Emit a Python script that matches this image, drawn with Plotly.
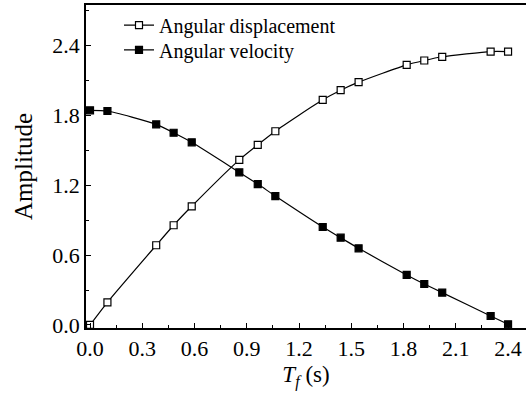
import plotly.graph_objects as go

t = [0.0, 0.1, 0.38, 0.48, 0.584, 0.857, 0.963, 1.064, 1.336, 1.439, 1.542, 1.818, 1.919, 2.022, 2.30, 2.40]
disp = [0.0, 0.195, 0.685, 0.857, 1.02, 1.419, 1.548, 1.665, 1.935, 2.018, 2.087, 2.236, 2.273, 2.305, 2.35, 2.35]
vel = [1.845, 1.839, 1.724, 1.652, 1.57, 1.312, 1.211, 1.108, 0.842, 0.75, 0.659, 0.43, 0.352, 0.278, 0.077, 0.006]

xticks = [0.0, 0.3, 0.6, 0.9, 1.2, 1.5, 1.8, 2.1, 2.4]
yticks = [0.0, 0.6, 1.2, 1.8, 2.4]

font = "Liberation Serif"

fig = go.Figure()
fig.add_trace(go.Scatter(
    x=t, y=disp, name="Angular displacement", mode="lines+markers",
    line=dict(color="black", width=1.2, shape="spline", smoothing=0.6),
    marker=dict(symbol="square", size=7, color="white", line=dict(color="black", width=1.2)),
    cliponaxis=False, legend="legend",
))
fig.add_trace(go.Scatter(
    x=t, y=vel, name="Angular velocity", mode="lines+markers",
    line=dict(color="black", width=1.2, shape="spline", smoothing=0.6),
    marker=dict(symbol="square", size=7, color="black", line=dict(color="black", width=1.2)),
    cliponaxis=False, legend="legend2",
))

leg_common = dict(x=0.075, xanchor="left", yanchor="middle",
                  bgcolor="rgba(0,0,0,0)", font=dict(family=font, size=20),
                  itemwidth=30)

fig.update_layout(
    width=526, height=399,
    margin=dict(l=86, r=0, t=5, b=71),
    paper_bgcolor="white", plot_bgcolor="white",
    font=dict(family=font, size=20, color="black"),
    showlegend=True,
    legend=dict(y=0.938, **leg_common),
    legend2=dict(y=0.861, **leg_common),
    xaxis=dict(
        range=[-0.023, 2.503], tickvals=xticks, ticktext=[f"{v:.1f}" for v in xticks],
        ticks="inside", ticklen=5, tickwidth=1.2, tickcolor="black",
        minor=dict(ticks="inside", ticklen=3, tickwidth=1.2, tickcolor="black", dtick=0.15, tick0=0),
        showline=True, linecolor="black", linewidth=1.5, mirror=True,
        showgrid=False, zeroline=False,
        title=dict(text="<i>T</i><sub><i>f</i></sub> (s)", font=dict(family=font, size=23), standoff=6),
        tickfont=dict(family=font, size=22),
    ),
    yaxis=dict(
        range=[-0.026, 2.75], tickvals=yticks, ticktext=[f"{v:.1f}" for v in yticks],
        ticks="inside", ticklen=5, tickwidth=1.2, tickcolor="black",
        minor=dict(ticks="inside", ticklen=3, tickwidth=1.2, tickcolor="black", dtick=0.3, tick0=0),
        showline=True, linecolor="black", linewidth=1.5, mirror=False,
        showgrid=False, zeroline=False,
        title=dict(text="Amplitude", font=dict(family=font, size=25), standoff=13),
        tickfont=dict(family=font, size=22),
    ),
)

fig.write_html("out.html")
